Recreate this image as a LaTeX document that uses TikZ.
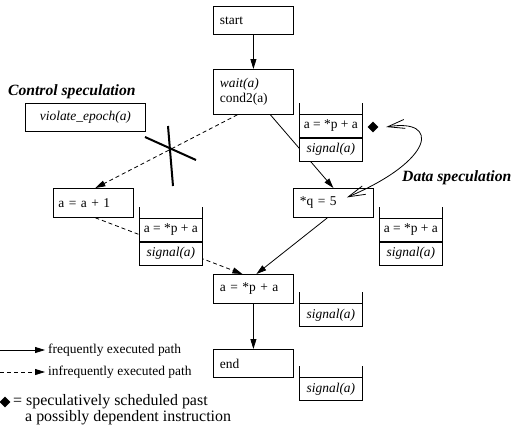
\documentclass[tikz,border=0pt]{standalone}
\usepackage{fontspec}
\setmainfont{Liberation Serif}
\usetikzlibrary{arrows.meta,shapes.geometric}
\begin{document}
\begin{tikzpicture}[x=1bp,y=-1bp,
  every node/.style={font=\fontsize{13.5}{15}\selectfont},
  box/.style={draw, line width=0.8bp, minimum height=28bp, text width=67bp,
    inner xsep=6.5bp, inner ysep=0pt, align=left, anchor=north west},
  cell/.style={draw, fill=white, line width=0.8bp, minimum width=63bp,
    minimum height=23bp, inner sep=0pt, anchor=north west},
  side/.style={line width=0.8bp},
  flow/.style={line width=0.8bp, -{Triangle[length=10bp,width=6bp]}},
  rare/.style={flow, dash pattern=on 4bp off 3bp},
  spec/.style={line width=0.8bp,
    {Straight Barb[length=17bp,width=9bp]}-{Straight Barb[length=17bp,width=9bp]}},
  depmark/.style={diamond, fill=black, inner sep=0pt, minimum size=11bp},
  lbl/.style={font=\fontsize{15.7}{18}\selectfont\bfseries\itshape, inner sep=0pt},
  legend/.style={anchor=west, inner sep=0pt},
]
\useasboundingbox (0,0) rectangle (511,430);

% basic blocks
\node[box] (start) at (213,6) {start};
\node[box, minimum height=45bp] (wait) at (213,69) {\textit{wait(a)}\\cond2(a)};
\node[draw, line width=0.8bp, minimum width=120bp, minimum height=28bp,
  anchor=north west, font=\fontsize{13.5}{15}\selectfont\itshape] (viol) at (25,103) {violate\_epoch(a)};
\node[box, minimum height=29bp, inner xsep=5bp, text width=70bp] (inc) at (53,188) {a = a + 1};
\node[box, minimum height=29bp] (qs) at (293,188) {*q = 5};
\node[box, minimum height=29bp] (merge) at (213,274) {a = *p + a};
\node[box] (end) at (213,349) {end};

% speculation labels
\node[lbl, anchor=west] (ctl) at (8,92) {Control speculation};
\node[lbl, anchor=west] (dat) at (402,178) {Data speculation};

% control flow
\draw[flow] (start.south) -- (wait.north);
\draw[rare] ([xshift=-16bp]wait.south) -- ([xshift=2bp]inc.north);
\draw[flow] ([xshift=17bp]wait.south) -- (qs.north);
\draw[flow] ([xshift=-6bp]qs.south) -- ([xshift=3bp]merge.north);
\draw[rare] ([xshift=2bp]inc.south) -- ([xshift=-11bp]merge.north);
\draw[flow] (merge.south) -- (end.north);

% cancelled edge
\draw[line width=2bp] (145,137) -- (196,160);
\draw[line width=2bp] (168,126) -- (173,186);

% scheduled instruction stacks
\node[cell] (s1a) at (299,114) {a = *p + a};
\node[cell, anchor=north] (s1b) at (s1a.south) {\textit{signal(a)}};
\draw[side] (s1a.north west) -- ++(0,-11.5);
\draw[side] (s1a.north east) -- ++(0,-11.5);

\node[cell] (s2a) at (139,218) {a = *p + a};
\node[cell, anchor=north] (s2b) at (s2a.south) {\textit{signal(a)}};
\draw[side] (s2a.north west) -- ++(0,-11.5);
\draw[side] (s2a.north east) -- ++(0,-11.5);

\node[cell] (s3a) at (379,218) {a = *p + a};
\node[cell, anchor=north] (s3b) at (s3a.south) {\textit{signal(a)}};
\draw[side] (s3a.north west) -- ++(0,-11.5);
\draw[side] (s3a.north east) -- ++(0,-11.5);

\node[cell] (s4b) at (299,303) {\textit{signal(a)}};
\draw[side] (s4b.north west) -- ++(0,-11.5);
\draw[side] (s4b.north east) -- ++(0,-11.5);

\node[cell] (s5b) at (299,377) {\textit{signal(a)}};
\draw[side] (s5b.north west) -- ++(0,-11.5);
\draw[side] (s5b.north east) -- ++(0,-11.5);

% data speculation
\node[depmark] (dm1) at (373,127) {};
\draw[spec] ([xshift=7.5bp]dm1.east) .. controls (440,118) and (435,160) ..
  ([xshift=13.5bp,yshift=5.5bp]qs.center);

% legend
\coordinate (la1) at (0,350);
\coordinate (la2) at (45,350);
\draw[flow] (la1) -- (la2);
\node[legend] (lt1) at (48,350) {frequently executed path};
\coordinate (lb1) at (0,372);
\coordinate (lb2) at (45,372);
\draw[rare] (lb1) -- (lb2);
\node[legend] (lt2) at (48,372) {infrequently executed path};
\node[depmark] (dm2) at (5,402) {};
\node[legend, font=\fontsize{16}{18}\selectfont] (lt3) at (13,402) {= speculatively scheduled past};
\node[legend, font=\fontsize{16}{18}\selectfont] (lt4) at (25,418) {a possibly dependent instruction};
\end{tikzpicture}
\end{document}
